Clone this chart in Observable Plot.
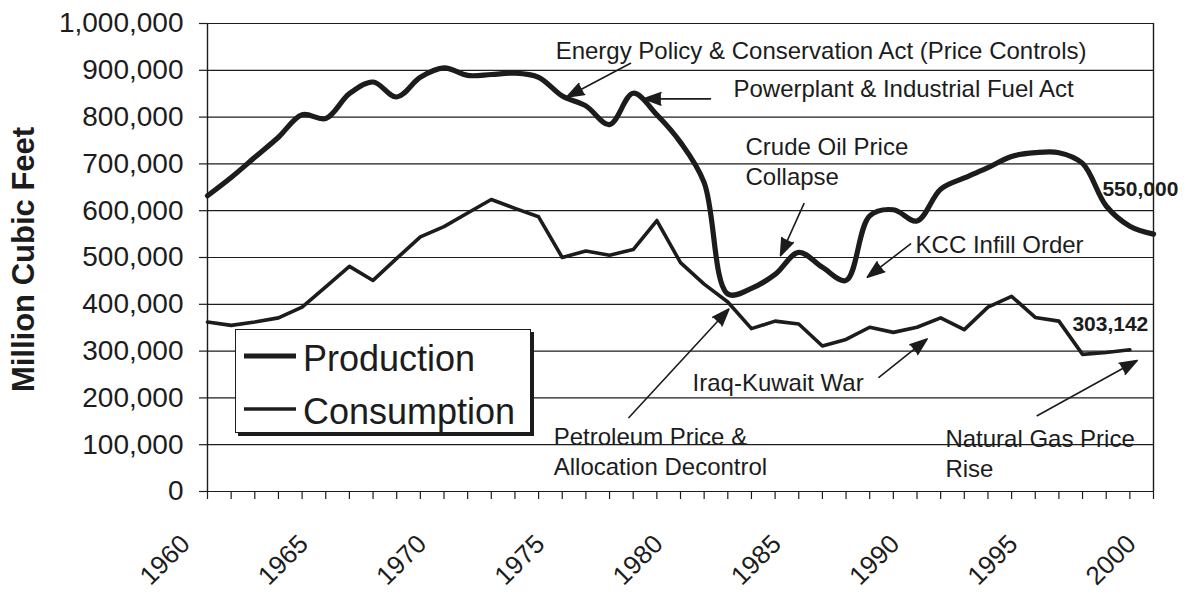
<!DOCTYPE html>
<html>
<head>
<meta charset="utf-8">
<script src="https://cdn.jsdelivr.net/npm/d3@7"></script>
<script src="https://cdn.jsdelivr.net/npm/@observablehq/plot@0.6"></script>
<style>
  html, body { margin: 0; padding: 0; background: #fff; }
  #wrap { position: relative; width: 1189px; height: 598px; font-family: "Liberation Sans", Arial, Helvetica, sans-serif; color: #1c1c1c; }
  #legend { position: absolute; left: 235px; top: 329px; width: 296px; height: 104px; background: #fff;
            border: 1.3px solid #1c1c1c; box-shadow: 3px 3px 0 #1c1c1c; box-sizing: border-box; }
  #legend svg { position: absolute; left: 0; top: 0; overflow: visible; }
</style>
</head>
<body>
<div id="wrap"></div>
<script>
// ---- data ----
const years = d3.range(1960, 2001);
const production = [
  632000, 671000, 714000, 757000, 805000, 797000, 850000, 875000, 843000, 885000,
  905000, 889000, 891000, 894000, 885000, 845000, 824000, 784000, 851000, 805000,
  746000, 660000, 422000, 434000, 464000, 511000, 479000, 451000, 589000, 602000,
  578000, 646000, 670000, 692000, 716000, 724000, 724000, 701000, 610000, 567000,
  550000
];
const consumptionYears = d3.range(1960, 2000);
const consumption = [
  362000, 355000, 362000, 371000, 394000, 437000, 481000, 451000, 498000, 544000,
  566000, 595000, 624000, 605000, 587000, 500000, 514000, 505000, 517000, 579000,
  489000, 443000, 405000, 348000, 364000, 358000, 311000, 325000, 351000, 340000,
  351000, 371000, 346000, 394000, 417000, 372000, 364000, 293000, 297000, 303000
];
const seriesNames = ["Production", "Consumption"];
const yTicks = d3.range(0, 1000001, 100000);
const xLabelYears = d3.range(1960, 2001, 5);
const yTitle = "Million Cubic Feet";

// annotation texts (left edge year, vertical centre value)
const noteText = [
  "Energy Policy & Conservation Act (Price Controls)",
  "Powerplant & Industrial Fuel Act",
  "Crude Oil Price\nCollapse",
  "KCC Infill Order",
  "Iraq-Kuwait War",
  "Petroleum Price &\nAllocation Decontrol",
  "Natural Gas Price\nRise"
];
const noteYear  = [1974.72, 1982.24, 1982.75, 1989.94, 1980.51, 1974.64, 1991.2];
const noteValue = [944000, 863000, 706700, 531000, 236000, 87500, 83200];

// arrows: from (year, value) to tip (year, value)
const arrowFromYear  = [1977.89, 1981.27, 1985.22, 1989.73, 1977.82, 1988.39, 1995.08];
const arrowFromValue = [915000, 839000, 615000, 529000, 158000, 244000, 162000];
const arrowToYear    = [1975.19, 1978.45, 1984.23, 1987.9, 1982.05, 1990.43, 1999.31];
const arrowToValue   = [843000, 839000, 504000, 458000, 390000, 326000, 280000];

// end-value labels
const endText  = ["550,000", "303,142"];
const endYear  = [1997.84, 1996.57];
const endValue = [646800, 358000];

// ---- tables for the library ----
const ink = "#1c1c1c";
const prodData = years.map((year, i) => ({year, value: production[i]}));
const consData = consumptionYears.map((year, i) => ({year, value: consumption[i]}));
const notes = noteText.map((text, i) => ({text, year: noteYear[i], value: noteValue[i]}));
const arrows = arrowFromYear.map((_, i) => ({x1: arrowFromYear[i], y1: arrowFromValue[i], x2: arrowToYear[i], y2: arrowToValue[i]}));
const ends = endText.map((text, i) => ({text, year: endYear[i], value: endValue[i]}));

const plot = Plot.plot({
  width: 1189,
  height: 598,
  marginLeft: 207,
  marginRight: 36,
  marginTop: 23,
  marginBottom: 107,
  style: {fontFamily: "'Liberation Sans', Arial, Helvetica, sans-serif", background: "#fff", color: ink},
  x: {domain: [1960, 2000]},
  y: {domain: [0, 1000000]},
  marks: [
    Plot.ruleY(yTicks, {stroke: ink, strokeWidth: 1.2}),
    Plot.ruleX([1960, 2000], {stroke: ink, strokeWidth: 1.4}),
    Plot.axisY({ticks: yTicks, tickSize: 8, tickPadding: 16, fontSize: 28, tickFormat: d3.format(","), label: null, stroke: ink, strokeWidth: 1.2}),
    Plot.axisX({ticks: years, tickSize: 8, tickFormat: () => "", label: null, stroke: ink, strokeWidth: 1.2}),
    Plot.text(xLabelYears, {x: d => d, text: d => String(d), frameAnchor: "bottom", rotate: -45, textAnchor: "end", dx: -16, dy: 54, fontSize: 26, fill: ink}),
    Plot.text([yTitle], {text: d => d, frameAnchor: "left", textAnchor: "middle", rotate: -90, dx: -183, dy: 2, fontSize: 31, fontWeight: "bold", fill: ink}),
    Plot.line(consData, {x: "year", y: "value", stroke: ink, strokeWidth: 3.6, curve: "linear", strokeLinejoin: "round"}),
    Plot.line(prodData, {x: "year", y: "value", stroke: ink, strokeWidth: 5.2, curve: "catmull-rom", strokeLinejoin: "round"}),
    Plot.arrow(arrows, {x1: "x1", y1: "y1", x2: "x2", y2: "y2", stroke: ink, fill: ink, strokeWidth: 1.6, headLength: 17, headAngle: 40}),
    Plot.text(notes, {x: "year", y: "value", text: "text", textAnchor: "start", fontSize: 24, lineHeight: 1.25, fill: ink}),
    Plot.text(ends, {x: "year", y: "value", text: "text", textAnchor: "start", fontSize: 21, fontWeight: "bold", fill: ink})
  ]
});

const wrap = document.getElementById("wrap");
wrap.appendChild(plot);

// legend box (inside plot area, like the original)
const legend = document.createElement("div");
legend.id = "legend";
const ns = "http://www.w3.org/2000/svg";
const lsvg = document.createElementNS(ns, "svg");
lsvg.setAttribute("width", "296");
lsvg.setAttribute("height", "104");
const swatchWidths = [5.2, 3.6];
const rowY = [26, 79];
const baseY = [41, 94];
seriesNames.forEach((name, i) => {
  const ln = document.createElementNS(ns, "line");
  ln.setAttribute("x1", 8); ln.setAttribute("x2", 60);
  ln.setAttribute("y1", rowY[i]); ln.setAttribute("y2", rowY[i]);
  ln.setAttribute("stroke", ink); ln.setAttribute("stroke-width", swatchWidths[i]);
  lsvg.appendChild(ln);
  const tx = document.createElementNS(ns, "text");
  tx.setAttribute("x", 67); tx.setAttribute("y", baseY[i]);
  tx.setAttribute("font-size", "36");
  tx.setAttribute("font-family", "'Liberation Sans', Arial, Helvetica, sans-serif");
  tx.setAttribute("fill", ink);
  tx.textContent = name;
  lsvg.appendChild(tx);
});
legend.appendChild(lsvg);
wrap.appendChild(legend);
</script>
</body>
</html>
